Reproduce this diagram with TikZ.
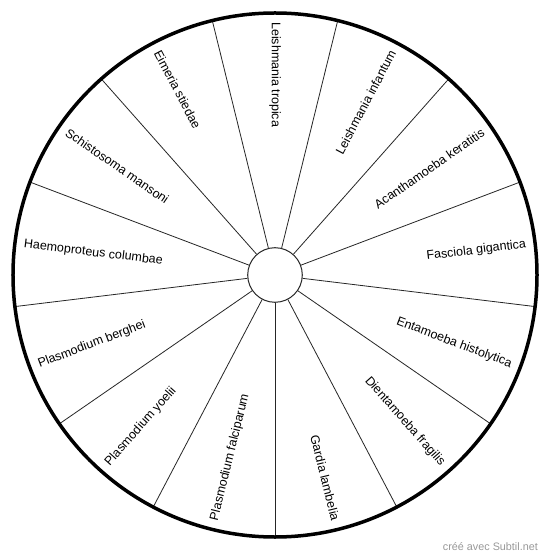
\documentclass[tikz,border=0pt]{standalone}
\usepackage{fontspec}
\setmainfont{Liberation Sans}
\begin{document}
\begin{tikzpicture}[x=1pt,y=1pt,
  spoke/.style={draw=black!85, line width=0.8pt},
  rlab/.style={anchor=east, inner sep=0pt, font=\fontsize{12.5}{14}\selectfont},
  llab/.style={anchor=west, inner sep=0pt, font=\fontsize{12.5}{14}\selectfont}]
\useasboundingbox (-275,-284) rectangle (275,275);
\fill[white] (-275,-284) rectangle (275,275);
\node[circle, draw=black!85, line width=1pt, minimum size=54.6pt, inner sep=0pt] (hub) at (0,0) {};
\foreach \i in {0,...,12} {
  \pgfmathsetmacro{\a}{270+\i*360/13}
  \coordinate (o\i) at (\a:262);
  \draw[spoke] (hub) -- (o\i);
}
\node[circle, draw=black, line width=3.5pt, minimum size=524pt, inner sep=0pt] (rim) at (0,0) {};
% right side labels (read outward)
\node[rlab, rotate=-76.15] (l1) at (283.85:253) {Gardia lambelia};
\node[rlab, rotate=-48.46] (l2) at (311.54:253) {Dientamoeba fragilis};
\node[rlab, rotate=-20.77] (l3) at (339.23:253) {Entamoeba histolytica};
\node[rlab, rotate=6.92] (l4) at (6.92:253) {Fasciola gigantica};
\node[rlab, rotate=34.62] (l5) at (34.62:253) {Acanthamoeba keratitis};
\node[rlab, rotate=62.31] (l6) at (62.31:253) {Leishmania infantum};
% left side labels (read inward)
\node[llab, rotate=-90] (l7) at (90:253) {Leishmania tropica};
\node[llab, rotate=-62.31] (l8) at (117.69:253) {Eimeria stiedae};
\node[llab, rotate=-34.62] (l9) at (145.38:253) {Schistosoma mansoni};
\node[llab, rotate=-6.92] (l10) at (173.08:253) {Haemoproteus columbae};
\node[llab, rotate=20.77] (l11) at (200.77:253) {Plasmodium berghei};
\node[llab, rotate=48.46] (l12) at (228.46:253) {Plasmodium yoelii};
\node[llab, rotate=76.15] (l13) at (256.15:253) {Plasmodium falciparum};
% watermark
\node[anchor=east, inner sep=0pt, text=black!40, font=\fontsize{10.8}{12}\selectfont] (wm) at (263,-272) {créé avec Subtil.net};
\end{tikzpicture}
\end{document}
